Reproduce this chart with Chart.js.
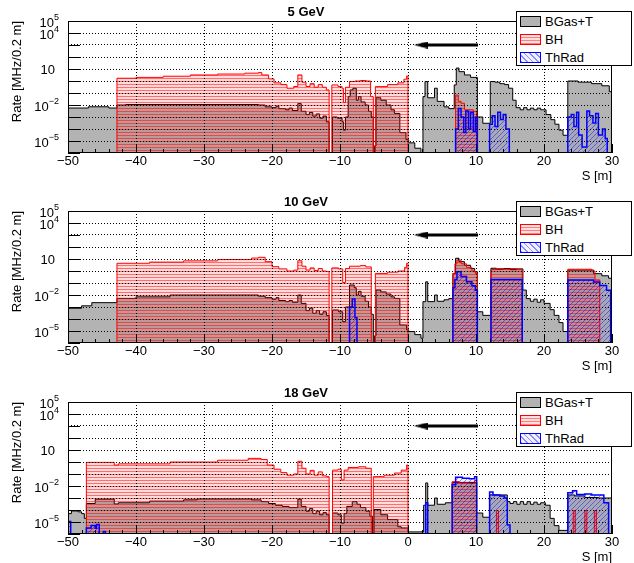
<!DOCTYPE html>
<html>
<head>
<meta charset="utf-8">
<script src="https://cdn.jsdelivr.net/npm/chart.js@4.4.0/dist/chart.umd.min.js"></script>
<style>
body{margin:0;background:#fff;width:634px;height:563px;overflow:hidden;position:relative}
.panel{position:absolute;left:0;width:634px;height:190px}
.legend{position:absolute;left:516px;top:11px;width:114px;height:53px;border:1px solid #000;background:#fff;font:13px "Liberation Sans",Arial,sans-serif;color:#000}
.row{position:absolute;left:3px;height:18px;display:flex;align-items:center;white-space:nowrap}
.sw{display:inline-block;width:19px;height:9px;margin-right:4px}
.gas{background:#b3b3b3;border:1px solid #000}
.bh{border:1px solid #f00;background:repeating-linear-gradient(0deg,rgba(255,0,0,.5) 0 1px,rgba(255,0,0,.12) 1px 3px)}
.thr{border:1px solid #00f;background:repeating-linear-gradient(45deg,rgba(0,0,255,.45) 0 1px,rgba(0,0,255,.06) 1px 4px)}
</style>
</head>
<body>
<div class="panel" style="top:0px"><canvas id="c5" width="634" height="190"></canvas>
  <div class="legend"><div class="row" style="top:0"><span class="sw gas"></span>BGas+T</div><div class="row" style="top:18px"><span class="sw bh"></span>BH</div><div class="row" style="top:36px"><span class="sw thr"></span>ThRad</div></div></div>
<div class="panel" style="top:190px"><canvas id="c10" width="634" height="190"></canvas>
  <div class="legend"><div class="row" style="top:0"><span class="sw gas"></span>BGas+T</div><div class="row" style="top:18px"><span class="sw bh"></span>BH</div><div class="row" style="top:36px"><span class="sw thr"></span>ThRad</div></div></div>
<div class="panel" style="top:381px"><canvas id="c18" width="634" height="190"></canvas>
  <div class="legend"><div class="row" style="top:0"><span class="sw gas"></span>BGas+T</div><div class="row" style="top:18px"><span class="sw bh"></span>BH</div><div class="row" style="top:36px"><span class="sw thr"></span>ThRad</div></div></div>
<script>
// bin edges (S in m) and rates (MHz/0.2 m), one value per step
const gas5X = [-50, -47, -44, -42.8, -41.5, -22, -21, -20, -19.4, -19, -18, -17.5, -17, -16.2, -15.7, -15, -14.5, -14, -13.5, -13, -12.5, -12, -11.6, -11.1, -10.4, -9.7, -9.5, -9.2, -8.8, -8.5, -8.1, -7.6, -7.3, -6.9, -6.3, -5.8, -5.4, -5.1, -4.9, -4.7, -4, -3.2, -2.5, -2, -1.2, -0.3, 0.1, 1, 1.9, 2.2, 2.5, 2.9, 3.9, 4.3, 5.3, 6, 6.8, 7.1, 7.5, 8.3, 9.2, 10.2, 11, 12.1, 12.8, 13.5, 14.2, 14.8, 15.4, 15.9, 16.5, 17, 17.5, 18, 18.5, 19, 19.5, 20.3, 21, 21.6, 22.2, 22.8, 23.5, 25, 27, 28.5, 29.6, 30];
const gas5Y = [5.6e-3, 7.1e-3, 5.6e-3, 1e-2, 1.1e-2, 1e-2, 7e-3, 6e-3, 8e-3, 5e-3, 4e-3, 5.5e-3, 3.5e-3, 1.3e-2, 3e-3, 1.6e-3, 2.4e-3, 1.2e-3, 1.8e-3, 8e-4, 1.2e-3, 4e-4, 1e-6, 1e-3, 8e-4, 4e-4, 8e-5, 1e-3, 0.05, 0.18, 0.25, 0.025, 0.05, 0.018, 0.01, 3e-3, 1e-3, 1e-6, 4e-6, 0.04, 0.025, 0.01, 4e-3, 2e-3, 5e-5, 1.3e-5, 7e-6, 2.5e-6, 1e-6, 0.05, 0.9, 0.04, 0.25, 0.02, 7e-3, 5e-3, 0.47, 12, 6, 3.2, 2, 1e-3, 3e-4, 0.9, 0.8, 0.6, 0.5, 0.25, 0.025, 6e-3, 4e-3, 6e-3, 4e-3, 5.5e-3, 4e-3, 5.5e-3, 4e-3, 1.6e-3, 6e-4, 2.5e-4, 8e-5, 3e-5, 1.0, 0.8, 0.6, 0.4, 0.13];
const bh5X = [-50, -42.8, -40, -36, -32, -28, -24, -22, -21.5, -20.5, -19.7, -18.7, -17.8, -16.8, -16.2, -15.6, -15, -14.4, -13.8, -13.2, -12.6, -12, -11.6, -11.2, -10.3, -9.7, -9.5, -9.2, -8.6, -7.8, -7, -6.2, -5.5, -5.1, -4.8, -3, -1.5, -0.6, -0.2, 0, 7, 7.4, 7.8, 8.3, 9.6, 10.1, 30];
const bh5Y = [1e-6, 1.7, 2.0, 2.5, 3.2, 3.8, 4.5, 5.0, 3.2, 1.5, 0.7, 0.5, 0.25, 0.35, 3.2, 0.8, 0.35, 0.6, 0.3, 0.5, 0.3, 0.18, 1e-6, 0.47, 0.35, 0.25, 0.016, 0.3, 0.9, 1.0, 1.1, 1.0, 0.05, 1e-6, 0.34, 0.5, 0.7, 1.4, 2.6, 1e-6, 0.068, 0.02, 0.014, 4e-3, 3e-3, 1e-6];
const thr5X = [-50, 7, 7.4, 7.8, 8.2, 8.5, 8.9, 9.2, 9.6, 9.9, 10.2, 12, 12.4, 12.8, 13.2, 13.6, 14, 14.4, 14.9, 23.5, 24, 24.4, 24.8, 25.1, 25.6, 26.3, 26.7, 27.2, 27.6, 28, 28.6, 29, 29.3, 30];
const thr5Y = [1e-6, 1e-4, 5e-3, 1e-3, 5e-5, 3.2e-3, 1e-4, 2.5e-3, 6.3e-5, 1e-3, 1e-6, 2.5e-4, 1.3e-3, 1.6e-4, 2.5e-3, 6.3e-4, 1.6e-3, 1e-4, 1e-6, 1e-3, 1.6e-3, 1.6e-4, 2.5e-3, 3.2e-5, 3.2e-6, 3.2e-3, 1.3e-3, 3.2e-4, 2e-3, 3.2e-5, 1e-4, 1.6e-5, 1e-6];

const gas10X = [-50, -48, -46.5, -42.8, -40, -35, -22, -21, -20, -19.4, -19, -18, -17.5, -17, -16.2, -15.7, -15, -14.5, -14, -13.5, -13, -12.5, -12, -11.6, -11.1, -10.2, -9.6, -9.2, -8.6, -7.9, -7.6, -7.3, -6.9, -6.3, -5.8, -5.4, -5.1, -4.9, -4.7, -4, -3.2, -2.5, -2, -1.2, -0.2, 0.1, 1, 1.9, 2.2, 2.6, 2.9, 3.9, 4.3, 5.3, 6, 6.6, 7, 7.5, 8.3, 9.2, 9.8, 10.2, 11, 12.2, 13, 14, 15, 16, 16.9, 17.4, 18, 18.5, 19, 19.5, 20, 20.9, 21.5, 22.2, 22.8, 23.5, 27.3, 28.5, 29.5, 30];
const gas10Y = [7.9e-4, 1.25e-3, 2.3e-3, 5.2e-3, 7e-3, 1e-2, 8e-3, 6e-3, 4.5e-3, 6e-3, 3.5e-3, 2.8e-3, 3.5e-3, 2.5e-3, 1e-2, 2e-3, 5e-4, 8e-4, 3e-4, 5e-4, 2.5e-4, 4e-4, 2e-4, 1e-6, 5.6e-4, 4e-4, 6e-5, 1e-3, 0.068, 0.04, 0.01, 0.02, 7.9e-3, 3e-3, 1e-3, 2.5e-4, 1e-6, 4e-6, 0.026, 0.018, 0.012, 7e-3, 5.2e-3, 3.2e-5, 1.25e-5, 9e-6, 5e-6, 2.5e-6, 2.8e-3, 0.125, 2.8e-3, 0.01, 3e-3, 4e-3, 5e-3, 0.6, 11.5, 6, 3, 1.6, 0.87, 4e-4, 2e-4, 1.7, 1.4, 1.6, 1.3, 1.5, 0.026, 5e-3, 3e-3, 4.5e-3, 2.5e-3, 4e-3, 2e-3, 6e-4, 2e-4, 5e-5, 9e-6, 1.2, 0.6, 0.4, 0.25];
const bh10X = [-50, -42.8, -38, -33, -28, -23, -22, -21, -20, -19, -17.8, -16.8, -16.2, -15.6, -15, -14.4, -13.8, -13.2, -12.6, -12, -11.6, -11.2, -10.2, -9.6, -9.2, -8.6, -7, -6.2, -5.4, -4.8, -3, -1.5, -0.5, -0.2, 0, 6.6, 6.9, 7.2, 7.8, 8.6, 9.4, 9.9, 10.2, 12.2, 13, 14, 15, 16, 16.8, 23.5, 27, 27.5, 28.2, 30];
const bh10Y = [1e-6, 4.4, 5.5, 7, 9, 12, 13.8, 6, 2.3, 1.5, 1.0, 1.2, 7.2, 2.5, 1.2, 1.8, 1.1, 1.6, 1.0, 0.9, 1e-6, 1.8, 1.5, 0.11, 1.6, 2.5, 2.8, 2.2, 1e-6, 0.63, 0.8, 1.0, 2.0, 4.4, 1e-6, 0.63, 4, 8, 4, 2, 1.0, 0.63, 1e-6, 1.3, 1.6, 1.4, 1.6, 1.3, 1e-6, 1.4, 1.0, 0.18, 1e-6];
const thr10X = [-50, -8.6, -8.2, -7.8, -7.5, 6.6, 6.9, 7.2, 7.8, 8.6, 9.4, 9.9, 10.2, 12.2, 16.8, 23.5, 27.3, 28.2, 29.2, 29.8, 30];
const thr10Y = [1e-6, 1e-3, 4.7e-3, 1.26e-4, 1e-6, 0.04, 0.2, 0.87, 0.35, 0.13, 0.06, 0.025, 1e-6, 0.2, 1e-6, 0.18, 0.12, 0.063, 0.025, 1e-6];

const gas18X = [-50, -49.5, -48.5, -48, -47.6, -47.3, -46, -43.2, -42.6, -38, -33, -31, -23, -21.6, -20.5, -19.5, -18.5, -17.5, -16.2, -15.7, -15, -14.5, -14, -13.5, -13, -12.5, -12, -11.6, -11.1, -10.3, -9.8, -9.4, -9, -8.2, -7.5, -7, -6.2, -5.6, -5.2, -5, -4, -3, -1.5, -1, 0, 2.3, 2.6, 2.9, 3.9, 4.3, 5.5, 6.5, 10.1, 11, 12, 14.6, 15, 15.5, 16, 16.5, 17, 17.5, 18, 18.5, 19, 19.5, 20.2, 20.9, 21.5, 22.2, 23.5, 24.5, 26, 28, 30];
const gas18Y = [5e-5, 8.3e-5, 7e-5, 5e-5, 2e-5, 3.5e-4, 8e-4, 3.2e-4, 4e-4, 5.5e-4, 7e-4, 8.3e-4, 7e-4, 5e-4, 3.5e-4, 2.5e-4, 2e-4, 1.6e-4, 8e-4, 2e-4, 8e-5, 1.3e-4, 5e-5, 8e-5, 4e-5, 6e-5, 4e-5, 1e-6, 5.6e-5, 4e-5, 8e-6, 5e-5, 2e-4, 5e-4, 3e-4, 1.6e-4, 8e-5, 3e-5, 1e-6, 1.1e-4, 4e-5, 1.6e-5, 4e-6, 3.2e-6, 1.5e-6, 2.5e-4, 0.018, 2.5e-4, 1e-3, 3e-4, 4e-4, 0.02, 5.6e-5, 2.5e-5, 1.8e-3, 5e-4, 3.5e-4, 5e-4, 3e-4, 5e-4, 3e-4, 5e-4, 3e-4, 4.5e-4, 3e-4, 4e-4, 2.5e-4, 2e-5, 5e-6, 2e-6, 1.8e-3, 1.5e-3, 1.1e-3, 1e-3];
const bh18X = [-50, -47.3, -43.2, -42.6, -35, -28, -23.5, -21.6, -20.7, -19.7, -18.7, -17.8, -16.8, -16.2, -15.6, -15, -14.4, -13.8, -13.2, -12.6, -12, -11.6, -11.1, -10.3, -9.8, -9.4, -8.8, -7.3, -6.2, -5.4, -5.1, -3.5, -2, -1, -0.2, 0, 6.5, 7.5, 9, 9.8, 10.1, 13, 13.3, 24.3, 24.6, 26, 26.3, 27.4, 27.7, 30];
const bh18Y = [1e-6, 0.93, 0.56, 0.7, 1.0, 1.4, 2.0, 1.6, 0.56, 0.25, 0.13, 0.08, 0.1, 1.15, 0.3, 0.1, 0.2, 0.08, 0.15, 0.07, 0.06, 1e-6, 0.21, 0.25, 0.032, 0.21, 0.35, 0.4, 0.3, 1e-6, 0.06, 0.08, 0.12, 0.21, 0.56, 1e-6, 0.023, 0.018, 0.016, 0.03, 1e-6, 9e-5, 1e-6, 9e-5, 1e-6, 9e-5, 1e-6, 9e-5, 1e-6];
const thr18X = [-50, -49.6, -47.3, -46.6, -46, -45.8, -45.4, -44.8, -44.5, 2.6, 2.9, 6.5, 7, 8, 9, 9.8, 10.1, 12, 12.5, 13.5, 14.2, 14.6, 15, 23.5, 24.2, 24.8, 26, 27, 28.8, 29.5, 30];
const thr18Y = [1.1e-5, 1e-6, 3.2e-6, 5e-6, 3e-6, 6.3e-6, 1e-6, 1.6e-6, 1e-6, 4e-4, 1e-6, 0.013, 0.053, 0.045, 0.04, 0.06, 1e-6, 3.2e-3, 1.8e-3, 1.5e-3, 1e-3, 5.6e-6, 1e-6, 2.8e-3, 4e-3, 2e-3, 2.2e-3, 1.8e-3, 4e-4, 1e-6];

// beam direction arrow
const arrowX = [10.3, 1.9];
const arrowY = [1000, 1000];

const decades = [1e-6, 1e-5, 1e-4, 1e-3, 1e-2, 1e-1, 1, 10, 1e2, 1e3, 1e4, 1e5];
const yLabelVals = [1e5, 1e4, 10, 1e-2, 1e-5];
const yLabelExps = ['5', '4', '', '\u22122', '\u22125'];

const FONT = '"Liberation Sans", Arial, sans-serif';
Chart.defaults.font.family = FONT;
Chart.defaults.color = '#000';

function hist(xs, ys) {
  const pts = ys.map((y, i) => ({ x: xs[i], y: y }));
  pts.push({ x: xs[xs.length - 1], y: ys[ys.length - 1] });
  return pts;
}

function hatch(line, base, diag) {
  const c = document.createElement('canvas');
  c.width = diag ? 5 : 8;
  c.height = diag ? 5 : 3;
  const g = c.getContext('2d');
  g.fillStyle = base;
  g.fillRect(0, 0, c.width, c.height);
  g.fillStyle = line;
  if (diag) {
    for (let i = 0; i < 5; i++) g.fillRect(i, 4 - i, 1, 1);
  } else {
    g.fillRect(0, 0, 8, 1);
  }
  return g.createPattern(c, 'repeat');
}
const redFill = hatch('rgba(255,0,0,0.5)', 'rgba(255,0,0,0.14)', false);
const blueFill = hatch('rgba(0,0,255,0.45)', 'rgba(0,0,255,0.05)', true);

const arrowHead = document.createElement('canvas');
arrowHead.width = 14;
arrowHead.height = 7;
(function () {
  const g = arrowHead.getContext('2d');
  g.fillStyle = '#000';
  g.beginPath();
  g.moveTo(0, 3.5);
  g.lineTo(14, 0);
  g.lineTo(14, 7);
  g.closePath();
  g.fill();
})();

const rootAxes = {
  id: 'rootAxes',
  afterDraw(chart) {
    const { ctx, chartArea: a, scales: { x, y } } = chart;
    ctx.save();
    ctx.strokeStyle = '#000';
    ctx.lineWidth = 1;
    ctx.strokeRect(a.left + 0.5, a.top + 0.5, a.right - a.left - 1, a.bottom - a.top - 1);
    ctx.beginPath();
    decades.forEach(v => {
      const py = Math.round(y.getPixelForValue(v)) + 0.5;
      ctx.moveTo(a.left, py);
      ctx.lineTo(a.left + 12, py);
    });
    for (let s = -50; s <= 30; s += 2) {
      const px = Math.round(x.getPixelForValue(s)) + 0.5;
      const len = s % 10 === 0 ? 9 : 4;
      ctx.moveTo(px, a.bottom);
      ctx.lineTo(px, a.bottom - len);
    }
    ctx.stroke();
    ctx.fillStyle = '#000';
    ctx.textBaseline = 'middle';
    yLabelVals.forEach((v, i) => {
      const py = y.getPixelForValue(v);
      const e = yLabelExps[i];
      ctx.font = '9px ' + FONT;
      const we = ctx.measureText(e).width;
      const right = e ? 59 : 55;
      ctx.textAlign = 'right';
      if (e) ctx.fillText(e, right, py - 3);
      ctx.font = '13px ' + FONT;
      ctx.fillText('10', right - we, py + (e ? 2.5 : 1));
    });
    ctx.restore();
  }
};

function gridColor(edgeA, edgeB) {
  return c => (c.tick && (c.tick.value === edgeA || c.tick.value === edgeB)) ? 'rgba(0,0,0,0)' : '#000';
}

function makePanel(id, title, gasX, gasY, bhX, bhY, thrX, thrY) {
  return new Chart(document.getElementById(id), {
    type: 'line',
    data: {
      datasets: [
        {
          label: 'arrow',
          data: arrowX.map((v, i) => ({ x: v, y: arrowY[i] })),
          borderColor: '#000', borderWidth: 3,
          pointRadius: [0, 4], pointStyle: arrowHead, fill: false
        },
        {
          label: 'ThRad', data: hist(thrX, thrY), stepped: true,
          borderColor: '#0000ff', borderWidth: 1.5, backgroundColor: blueFill,
          fill: 'start', pointRadius: 0
        },
        {
          label: 'BH', data: hist(bhX, bhY), stepped: true,
          borderColor: '#ff0000', borderWidth: 1, backgroundColor: redFill,
          fill: 'start', pointRadius: 0
        },
        {
          label: 'BGas+T', data: hist(gasX, gasY), stepped: true,
          borderColor: '#000', borderWidth: 1, backgroundColor: '#b3b3b3',
          fill: 'start', pointRadius: 0
        }
      ]
    },
    options: {
      responsive: false,
      animation: false,
      devicePixelRatio: 1,
      events: [],
      layout: { padding: { left: 0, right: 22, top: 0, bottom: 0 } },
      plugins: {
        legend: { display: false },
        tooltip: { enabled: false },
        title: {
          display: true, text: title, color: '#000',
          font: { size: 13, weight: 'bold', family: FONT },
          padding: { top: 5, bottom: 0.4 }
        }
      },
      scales: {
        x: {
          type: 'linear', min: -50, max: 30,
          ticks: {
            stepSize: 10, autoSkip: false, maxRotation: 0, padding: 1,
            font: { size: 13 }, color: '#000',
            callback: v => (v < 0 ? '\u2212' + Math.abs(v) : String(v))
          },
          grid: { drawTicks: false, color: gridColor(-50, 30), lineWidth: 1, z: 1 },
          border: { display: false, dash: [1, 2] },
          title: {
            display: true, text: 'S [m]', align: 'end', color: '#000',
            font: { size: 13 }, padding: { top: 0, bottom: 6 }
          },
          afterFit: s => { s.height = 37; }
        },
        y: {
          type: 'logarithmic', min: 1e-6, max: 1e5,
          afterBuildTicks: s => { s.ticks = decades.map(v => ({ value: v })); },
          ticks: { display: false },
          grid: { drawTicks: false, color: gridColor(1e-6, 1e5), lineWidth: 1, z: 1 },
          border: { display: false, dash: [1, 2] },
          title: {
            display: true, text: 'Rate [MHz/0.2 m]', align: 'end', color: '#000',
            font: { size: 13 }, padding: { top: 10, bottom: 0 }
          },
          afterFit: s => { s.width = 68; }
        }
      }
    },
    plugins: [rootAxes]
  });
}

makePanel('c5', '5 GeV', gas5X, gas5Y, bh5X, bh5Y, thr5X, thr5Y);
makePanel('c10', '10 GeV', gas10X, gas10Y, bh10X, bh10Y, thr10X, thr10Y);
makePanel('c18', '18 GeV', gas18X, gas18Y, bh18X, bh18Y, thr18X, thr18Y);
</script>
</body>
</html>
